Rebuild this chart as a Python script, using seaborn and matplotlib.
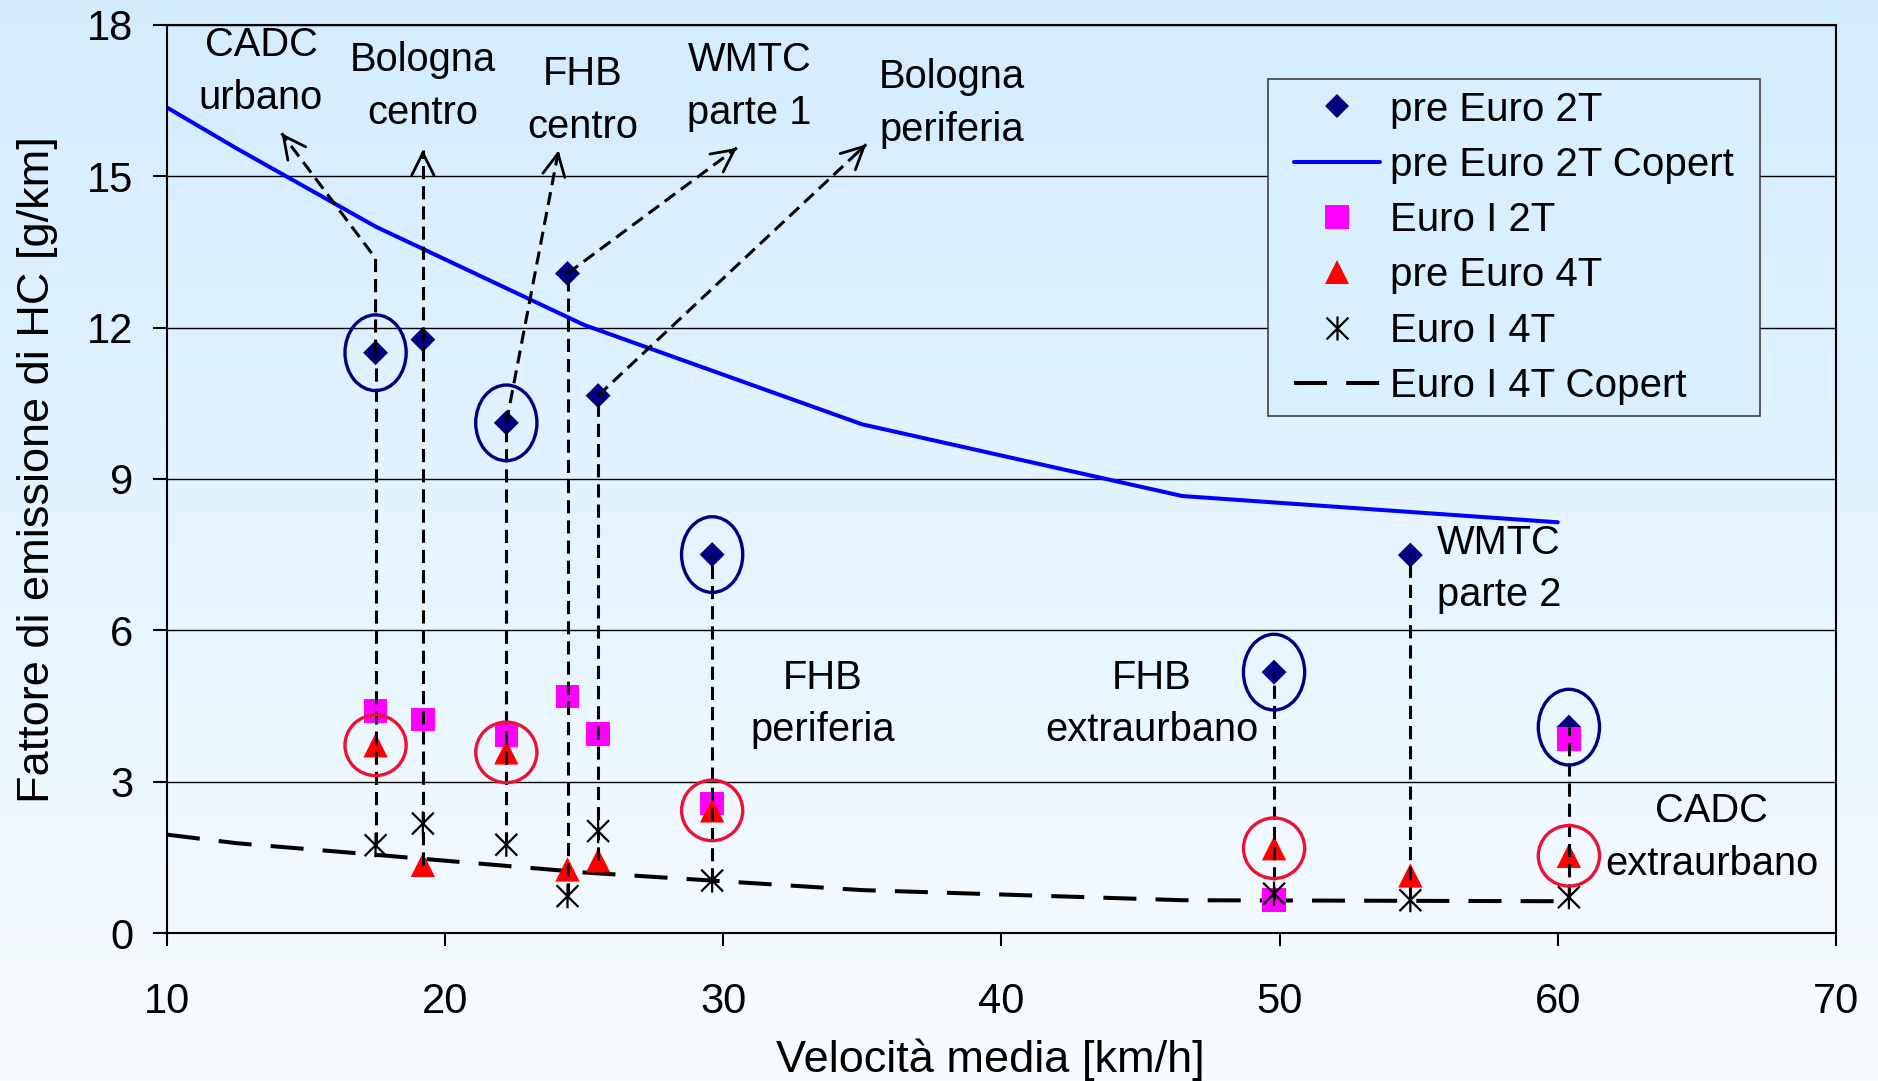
import numpy as np
import matplotlib
matplotlib.use("Agg")
import matplotlib.pyplot as plt
from matplotlib.lines import Line2D
from matplotlib.patches import Ellipse, Rectangle
from matplotlib.path import Path
import seaborn as sns

# ---------------------------------------------------------------- data
# average speed of each driving cycle [km/h]
speed = [17.5, 19.2, 22.2, 24.4, 25.5, 29.6, 49.8, 54.7, 60.4]
pre_euro_2t = [11.50, 11.76, 10.11, 13.07, 10.65, 7.50, 5.17, 7.49, 4.08]
speed_euro1_2t = [17.5, 19.2, 22.2, 24.4, 25.5, 29.6, 49.8, 60.4]
euro1_2t = [4.40, 4.23, 3.92, 4.69, 3.95, 2.57, 0.65, 3.85]
pre_euro_4t = [3.72, 1.35, 3.58, 1.26, 1.44, 2.43, 1.68, 1.14, 1.53]
euro1_4t = [1.74, 2.17, 1.75, 0.73, 2.02, 1.04, 0.78, 0.65, 0.71]

# COPERT emission factor curves
copert_speed = [10, 12.5, 17.5, 25, 35, 46.5, 60]
copert_pre_euro_2t = [16.36, 15.55, 14.00, 12.05, 10.08, 8.66, 8.14]
copert_euro1_4t = [1.95, 1.78, 1.55, 1.20, 0.85, 0.65, 0.63]

# cycles whose measurements are ringed
ringed = [17.5, 22.2, 29.6, 49.8, 60.4]

# cycle names written inside the plot
cycle_labels = ["CADC\nurbano", "Bologna\ncentro", "FHB\ncentro", "WMTC\nparte 1",
                "Bologna\nperiferia", "FHB\nperiferia", "FHB\nextraurbano",
                "WMTC\nparte 2", "CADC\nextraurbano"]
label_xy = [(13.38, 17.07), (19.2, 16.78), (24.96, 16.50), (30.94, 16.78),
            (38.21, 16.44), (33.57, 4.54), (45.40, 4.54), (55.65, 7.21),
            (65.54, 1.89)]
label_ha = ["center"] * 7 + ["left", "center"]

# dashed leaders from a cycle's column up to its name: (speed, elbow, tip)
leaders = [
    (17.5, 13.37, (14.12, 15.85)),
    (19.2, None, (19.2, 15.52)),
    (22.2, None, (24.08, 15.51)),
    (24.4, None, (30.49, 15.56)),
    (25.5, None, (35.14, 15.63)),
]

legend_labels = ["pre Euro 2T", "pre Euro 2T Copert", "Euro I 2T",
                 "pre Euro 4T", "Euro I 4T", "Euro I 4T Copert"]

# ---------------------------------------------------------------- style
sns.set_theme(style="white")
plt.rcParams["font.family"] = ["Liberation Sans", "DejaVu Sans"]
plt.rcParams["text.color"] = "black"
plt.rcParams["axes.labelcolor"] = "black"

NAVY = "#000080"
BLUE = "#0000FF"
MAGENTA = "#FF00FF"
RED = "#FF0000"
RING_RED = "#EE1133"
LEADER_LS = (0, (4.3, 2.3))
COPERT_LS = (0, (8.2, 4.75))
LEGEND_FS = 29

# asterisk marker: an X crossed by a vertical stroke
star = Path([(-1, -1), (1, 1), (-1, 1), (1, -1), (0, -1.1), (0, 1.1)],
            [Path.MOVETO, Path.LINETO, Path.MOVETO, Path.LINETO,
             Path.MOVETO, Path.LINETO])

fig = plt.figure(figsize=(18.78, 10.81), dpi=100)
fig.patch.set_facecolor("white")

# vertical background gradient behind everything
bg = fig.add_axes([0, 0, 1, 1], zorder=-10)
top_c = np.array([0.824, 0.925, 0.996])
bot_c = np.array([0.973, 0.988, 1.0])
t = np.linspace(0, 1, 256)[:, None]
grad = (top_c[None, :] * (1 - t) + bot_c[None, :] * t)[:, None, :]
bg.imshow(grad, aspect="auto", extent=[0, 1, 0, 1])
bg.axis("off")

ax = fig.add_axes([0.0889, 0.1369, 0.8887, 0.8402])
ax.set_facecolor("none")

# ---------------------------------------------------------------- curves
sns.lineplot(x=copert_speed, y=copert_pre_euro_2t, color=BLUE, linewidth=2.9,
             ax=ax, zorder=2)
sns.lineplot(x=copert_speed, y=copert_euro1_4t, color="black", linewidth=2.9,
             linestyle=COPERT_LS, ax=ax, zorder=2)

# ---------------------------------------------------------------- points
sns.scatterplot(x=speed, y=pre_euro_2t, marker="D", s=161, color=NAVY,
                edgecolor="none", ax=ax, zorder=3)
sns.scatterplot(x=speed_euro1_2t, y=euro1_2t, marker="s", s=289, color=MAGENTA,
                edgecolor="none", ax=ax, zorder=3)
sns.scatterplot(x=speed, y=pre_euro_4t, marker="^", s=306, color=RED,
                edgecolor="none", ax=ax, zorder=3)
sns.scatterplot(x=speed, y=euro1_4t, marker=star, s=300, facecolor="none",
                edgecolor="black", linewidth=1.6, ax=ax, zorder=3)

# vertical dashed columns joining the measurements of each cycle
cols = {}
for xs, ys in [(speed, pre_euro_2t), (speed_euro1_2t, euro1_2t),
               (speed, pre_euro_4t), (speed, euro1_4t)]:
    for xv, yv in zip(xs, ys):
        cols.setdefault(xv, []).append(yv)
top_of = {}
for xv, vals in cols.items():
    top_of[xv] = max(vals)
    ax.plot([xv, xv], [min(vals), max(vals)], color="black", lw=2.2,
            linestyle=LEADER_LS, zorder=4)

# leaders to the cycle names
for xv, elbow, tip in leaders:
    pts = [(xv, top_of[xv])]
    if elbow is not None:
        pts.append((xv, elbow))
    pts.append(tip)
    px, py = zip(*pts)
    ax.plot(px, py, color="black", lw=2.2, linestyle=LEADER_LS, zorder=4)
    sx, sy = pts[-2]
    ax.annotate("", xy=tip,
                xytext=(tip[0] - 0.03 * (tip[0] - sx), tip[1] - 0.03 * (tip[1] - sy)),
                arrowprops=dict(arrowstyle="->", color="black", lw=2.0,
                                mutation_scale=40, shrinkA=0, shrinkB=0),
                zorder=4)

# rings around the highlighted measurements
for xv in ringed:
    i = speed.index(xv)
    ax.add_patch(Ellipse((xv, pre_euro_2t[i]), 2.2, 1.5, fill=False,
                         edgecolor=NAVY, lw=2.4, zorder=5))
    ax.add_patch(Ellipse((xv, pre_euro_4t[i]), 2.2, 1.2, fill=False,
                         edgecolor=RING_RED, lw=2.4, zorder=5))

# cycle names
for txt, (lx, ly), ha in zip(cycle_labels, label_xy, label_ha):
    ax.text(lx, ly, txt, ha=ha, va="center", multialignment="center",
            fontsize=28.7, linespacing=1.48, color="black", zorder=6)

# ---------------------------------------------------------------- axes
ax.set_xlim(10, 70)
ax.set_ylim(0, 18)
ax.set_xticks(range(10, 71, 10))
ax.set_yticks(range(0, 19, 3))
ax.yaxis.grid(True, color="black", lw=1.0)
ax.xaxis.grid(False)
for s in ax.spines.values():
    s.set_color("black")
    s.set_linewidth(1.5)
ax.tick_params(axis="x", bottom=True, direction="out", length=9.4, width=1.5,
               pad=26, labelsize=30, colors="black")
ax.tick_params(axis="y", left=True, direction="out", length=10, width=1.5,
               pad=14, labelsize=30, colors="black")

ax.set_xlabel("Velocità media [km/h]", fontsize=32.5, va="center", color="black")
ax.xaxis.set_label_coords(0.4934, -0.139)
ax.set_ylabel("Fattore di emissione di HC [g/km]", fontsize=32.5, va="center",
              color="black")
ax.yaxis.set_label_coords(-0.0775, 0.51)

# ---------------------------------------------------------------- legend
handles = [
    Line2D([], [], linestyle="none", marker="D", markersize=12.7, color=NAVY,
           markeredgewidth=0),
    Line2D([], [], color=BLUE, lw=2.9),
    Line2D([], [], linestyle="none", marker="s", markersize=17, color=MAGENTA,
           markeredgewidth=0),
    Line2D([], [], linestyle="none", marker="^", markersize=17.5, color=RED,
           markeredgewidth=0),
    Line2D([], [], linestyle="none", marker=star, markersize=17.3,
           markerfacecolor="none", markeredgecolor="black", markeredgewidth=1.6),
    Line2D([], [], color="black", lw=2.9, linestyle=COPERT_LS),
]
leg = ax.legend(handles=handles, labels=legend_labels, loc="upper right",
                bbox_to_anchor=(0.9455, 0.940), fontsize=LEGEND_FS, frameon=False,
                borderpad=0.28, labelspacing=0.43, handlelength=2.15,
                handletextpad=0.24, borderaxespad=0)
leg.set_zorder(7)

# legend frame: wider side margins than the vertical ones
fig.canvas.draw()
bb = leg.get_window_extent()
side = 0.37 * LEGEND_FS * fig.dpi / 72.0
inv = fig.transFigure.inverted()
(x0, y0), (x1, y1) = inv.transform([(bb.x0 - side, bb.y0), (bb.x1 + side, bb.y1)])
ax.add_patch(Rectangle((x0, y0), x1 - x0, y1 - y0, transform=fig.transFigure,
                       facecolor="#D8EFFE", edgecolor="#404040", lw=1.2,
                       clip_on=False, zorder=6.9))

fig.savefig("out.png", dpi=100)
